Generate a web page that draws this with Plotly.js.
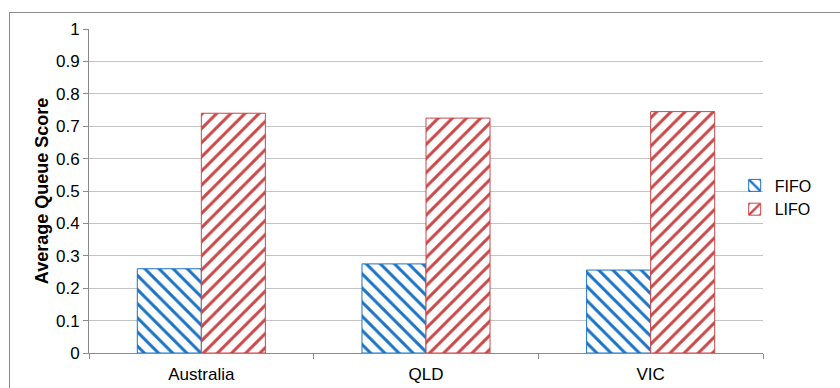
<!DOCTYPE html>
<html>
<head>
<meta charset="utf-8">
<script src="https://cdn.plot.ly/plotly-3.0.1.min.js"></script>
<style>
  html, body { margin: 0; padding: 0; background: #fff; overflow: hidden; }
  #frame { position: absolute; left: 9px; top: 12px; width: 900px; height: 500px;
           border-left: 1px solid #8a8a8a; border-top: 1px solid #8a8a8a; pointer-events: none; }
  #chart { position: absolute; left: 0; top: 0; width: 840px; height: 388px; }
</style>
</head>
<body>
<div id="chart"></div>
<div id="frame"></div>
<script>
const categories = ["Australia", "QLD", "VIC"];
const seriesNames = ["FIFO", "LIFO"];
const fifoValues = [0.26, 0.275, 0.256];
const lifoValues = [0.74, 0.725, 0.745];
const yTickValues = [0, 0.1, 0.2, 0.3, 0.4, 0.5, 0.6, 0.7, 0.8, 0.9, 1];
const yTickLabels = ["0", "0.1", "0.2", "0.3", "0.4", "0.5", "0.6", "0.7", "0.8", "0.9", "1"];

const blue = "#1a73c4";
const red = "#c9484a";

function barTrace(name, values, color, shape) {
  return {
    type: "bar",
    name: name,
    x: categories,
    y: values,
    marker: {
      color: "#ffffff",
      line: { color: color, width: 1 },
      pattern: { shape: shape, fgcolor: color, bgcolor: "#ffffff", size: 10, solidity: 0.3, fillmode: "replace" }
    },
    hoverinfo: "skip"
  };
}

const data = [
  barTrace(seriesNames[0], fifoValues, blue, "\\"),
  barTrace(seriesNames[1], lifoValues, red, "/")
];

const layout = {
  width: 840,
  height: 388,
  margin: { l: 89, r: 77, t: 29, b: 35 },
  paper_bgcolor: "#ffffff",
  plot_bgcolor: "#ffffff",
  font: { family: "Liberation Sans, Arial, sans-serif", size: 17, color: "#000" },
  barmode: "group",
  bargap: 0.43,
  bargroupgap: 0,
  showlegend: true,
  legend: {
    x: 0.958, xanchor: "left", y: 0.48, yanchor: "middle",
    font: { size: 16, color: "#000" },
    itemwidth: 30, tracegroupgap: 0, bgcolor: "rgba(0,0,0,0)"
  },
  xaxis: {
    type: "category",
    showline: true, linecolor: "#8a8a8a", linewidth: 1,
    ticks: "outside", ticklen: 5, tickcolor: "#8a8a8a",
    tickson: "boundaries",
    showgrid: false,
    ticklabelstandoff: 6,
    tickfont: { size: 17 }
  },
  yaxis: {
    range: [0, 1],
    tickvals: yTickValues,
    ticktext: yTickLabels,
    showline: true, linecolor: "#8a8a8a", linewidth: 1,
    ticks: "outside", ticklen: 5, tickcolor: "#8a8a8a",
    showgrid: true, gridcolor: "#c4c4c4", gridwidth: 1,
    zeroline: false,
    ticklabelstandoff: 0,
    tickfont: { size: 17 },
    title: { text: "<b>Average Queue Score</b>", font: { size: 18 }, standoff: 2 }
  }
};

Plotly.newPlot("chart", data, layout, { displayModeBar: false, staticPlot: true });
</script>
</body>
</html>
